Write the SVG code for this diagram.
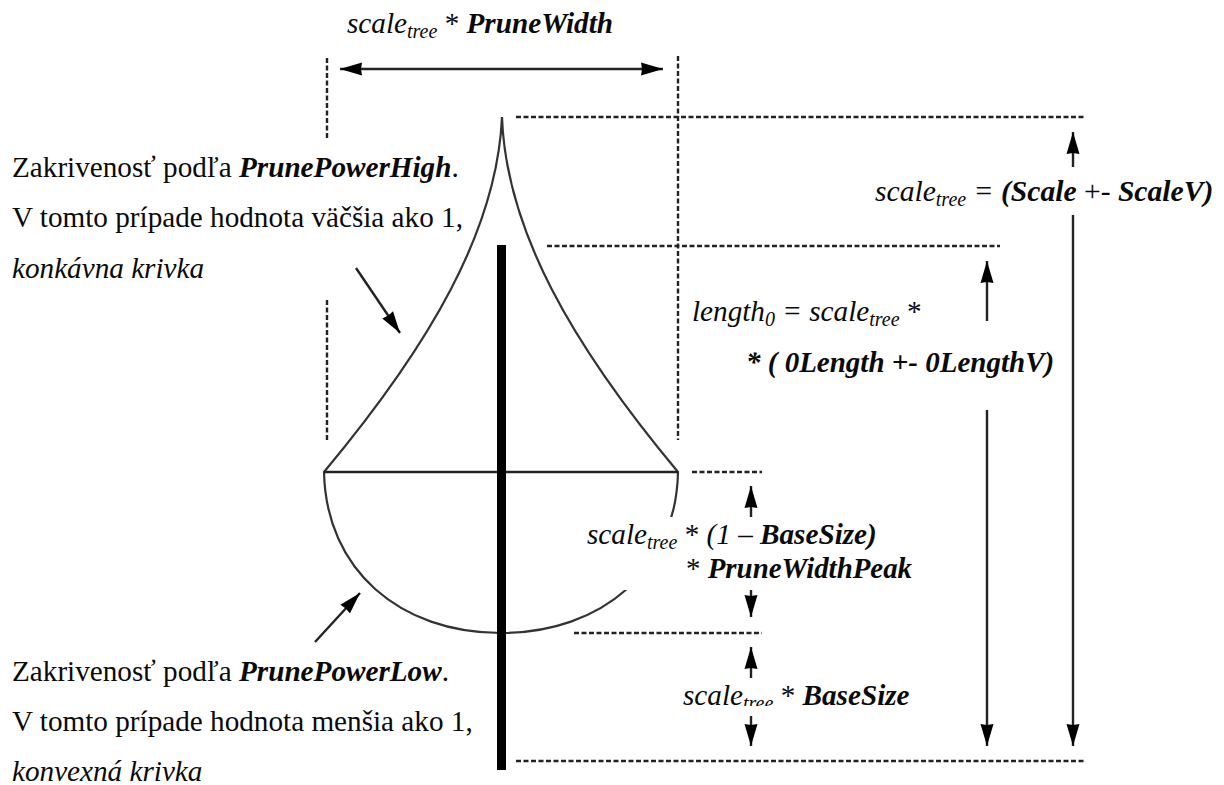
<svg xmlns="http://www.w3.org/2000/svg" width="1224" height="785" viewBox="0 0 1224 785">
<style>
text{font-family:"Liberation Serif","Times New Roman",serif;font-size:29.2px;fill:#0a0a0a}
.i{font-style:italic}
.b{font-style:italic;font-weight:bold}
.s{font-size:20px;font-style:italic}
.d{fill:none;stroke:#222;stroke-width:2.4;stroke-dasharray:5 2.5}
.c{fill:none;stroke:#333;stroke-width:2.2}
.a{fill:none;stroke:#222;stroke-width:2.4;marker-end:url(#h)}
</style>
<defs>
<marker id="h" markerUnits="userSpaceOnUse" markerWidth="23" markerHeight="16" refX="22" refY="7" orient="auto-start-reverse"><path d="M0,0.5 L22,7 L0,13.5 L1,7 Z" fill="#000"/></marker>
</defs>
<rect width="1224" height="785" fill="#fff"/>
<g id="crown">
<path class="c" d="M502,117 C497,230 430,345 324,472 C326,570 400,633 501,633 C602,633 676,570 678,472 C572,345 506,230 502,117 Z"/>
<path d="M324,472 H678" fill="none" stroke="#222" stroke-width="2.6"/>
<rect x="497" y="245" width="9" height="525" fill="#000"/>
</g>
<g id="connectors">
<path class="d" d="M327,58 V138 M327,300 V442 M678,56 V440 M516,117 H1086 M547,246 H1000 M692,472 H762 M574,633 H762 M516,761 H1086"/>
<path class="a" d="M340,69 H663" marker-start="url(#h)"/>
<path class="a" d="M1073,167 V132"/>
<path class="a" d="M1073,215 V746"/>
<path class="a" d="M987,321 V261"/>
<path class="a" d="M987,410 V746"/>
<path class="a" d="M356,268 L400,333"/>
<path class="a" d="M315,642 L360,593"/>
</g>
<g id="label-width">
<text x="347" y="33"><tspan class="i">scale</tspan><tspan class="s" dy="5">tree</tspan><tspan dy="-5"> * </tspan><tspan class="b">PruneWidth</tspan></text>
</g>
<g id="label-high">
<text x="12" y="177">Zakrivenosť podľa <tspan class="b">PrunePowerHigh</tspan>.</text>
<text x="12" y="227">V tomto prípade hodnota väčšia ako 1,</text>
<text x="12" y="278" class="i">konkávna krivka</text>
</g>
<g id="label-low">
<text x="12" y="681">Zakrivenosť podľa <tspan class="b">PrunePowerLow</tspan>.</text>
<text x="12" y="731">V tomto prípade hodnota menšia ako 1,</text>
<text x="12" y="781" class="i">konvexná krivka</text>
</g>
<g id="label-scale">
<text x="875" y="201" style="font-size:29.6px"><tspan class="i">scale</tspan><tspan class="s" dy="5">tree</tspan><tspan dy="-5" class="i"> = </tspan><tspan class="b">(Scale</tspan> +- <tspan class="b">ScaleV)</tspan></text>
</g>
<g id="label-length">
<text x="692" y="321"><tspan class="i">length</tspan><tspan class="s" dy="5">0</tspan><tspan dy="-5" class="i"> = scale</tspan><tspan class="s" dy="5">tree</tspan><tspan dy="-5"> *</tspan></text>
<text x="746" y="372" style="font-size:29px"><tspan class="b">* ( 0Length +- 0LengthV)</tspan></text>
</g>
<g id="label-peak">
<rect x="586" y="517" width="205" height="73" fill="#fff"/>
<text x="587" y="544"><tspan class="i">scale</tspan><tspan class="s" dy="5">tree</tspan><tspan dy="-5"> * </tspan><tspan class="i">(1 – </tspan><tspan class="b">BaseSize)</tspan></text>
<text x="686" y="578" style="font-size:28.9px">* <tspan class="b">PruneWidthPeak</tspan></text>
<path class="a" d="M751,517 V486"/>
<path class="a" d="M751,590 V617"/>
</g>
<g id="label-base">
<text x="683" y="705"><tspan class="i">scale</tspan><tspan class="s" dy="5">tree</tspan><tspan dy="-5"> * </tspan><tspan class="b">BaseSize</tspan></text>
<rect x="680" y="706" width="110" height="10" fill="#fff"/>
<path class="a" d="M751,678 V647"/>
<path class="a" d="M751,716 V746"/>
</g>
</svg>
